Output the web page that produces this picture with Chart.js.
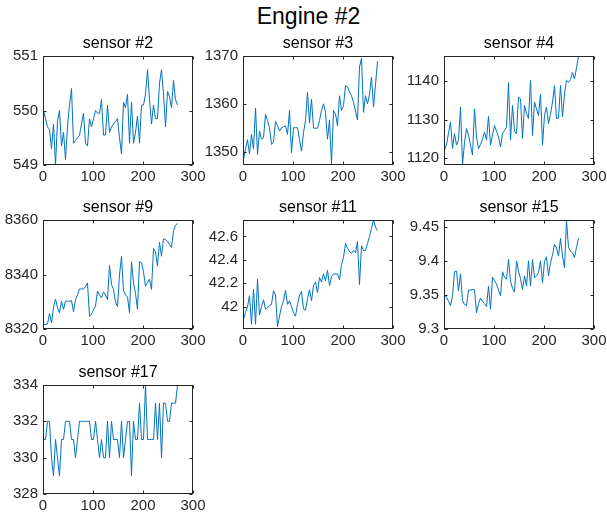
<!DOCTYPE html>
<html lang="en">
<head>
  <meta charset="UTF-8">
  <title>Engine #2</title>
  <script src="https://cdn.jsdelivr.net/npm/chart.js"></script>
  <style>
    body { margin: 0; background: #fff; }
    #page { position: relative; width: 607px; height: 517px; overflow: hidden; }
    #page canvas { position: absolute; }
    #mainTitle {
      position: absolute; left: 5px; top: 5px; width: 607px;
      text-align: center; font: 23px/23px "Liberation Sans", Arial, sans-serif; color: #000;
    }
  </style>
</head>
<body>
  <div id="page">
    <div id="mainTitle">Engine #2</div>
  </div>

  <script>
    // cycle numbers (x axis), shared by every sensor
    const CYCLES = [
      1, 5, 9, 13, 17, 21, 25, 29, 33, 37,
      41, 45, 49, 53, 57, 61, 65, 69, 73, 77,
      81, 85, 89, 93, 97, 101, 105, 109, 113, 117,
      121, 125, 129, 133, 137, 141, 145, 149, 153, 157,
      161, 165, 169, 173, 177, 181, 185, 189, 193, 197,
      201, 205, 209, 213, 217, 221, 225, 229, 233, 237,
      241, 245, 249, 253, 257, 261, 265, 269
    ];

    // sensor readings
    const SENSOR_2 = [
      550.0, 549.85, 549.7, 549.65, 549.3, 549.75, 549.0, 549.8, 550.0, 549.35,
      549.6, 549.1, 549.7, 550.1, 550.4, 549.4, 549.45, 549.5, 549.55, 549.75,
      549.95, 549.4, 549.35, 549.85, 549.7, 549.85, 550.0, 549.95, 549.95, 550.2,
      549.55, 549.55, 550.1, 549.6, 549.7, 549.75, 549.8, 549.85, 549.5, 549.2,
      550.15, 550.05, 550.3, 549.4, 550.15, 549.4, 549.6, 549.9, 549.4, 550.1,
      550.1, 550.3, 550.75, 550.2, 549.75, 550.1, 549.85, 549.85, 550.5, 550.75,
      550.3, 549.7, 550.35, 550.25, 550.05, 550.55, 550.2, 550.1
    ];
    const SENSOR_3 = [
      1348.4, 1350.5, 1352.5, 1349.5, 1353.6, 1350.6, 1359.1, 1349.4, 1354.3, 1352.6,
      1352.9, 1357.8, 1356.5, 1355, 1351.5, 1352, 1356.3, 1355.5, 1354.3, 1355,
      1355.2, 1355.4, 1353.6, 1358.6, 1349.8, 1355, 1355, 1355, 1352.5, 1350.1,
      1354, 1356.5, 1362.4, 1356, 1361, 1354.9, 1354.9, 1354.9, 1356.5, 1358.6,
      1360, 1358.2, 1352.6, 1356.6, 1347.3, 1358.6, 1357.9, 1355.4, 1361.7, 1358.6,
      1359.6, 1363.8, 1363.5, 1362.5, 1361.7, 1360.3, 1358.5, 1356.6, 1367.7, 1369.5,
      1358.2, 1361.7, 1360, 1362, 1365.6, 1359.3, 1364, 1368.9
    ];
    const SENSOR_4 = [
      1122.1, 1123.5, 1126.5, 1129.4, 1122.5, 1126.4, 1123.4, 1124.8, 1133.3, 1118.2,
      1124, 1127.7, 1126, 1123.4, 1120.8, 1132.8, 1125.5, 1122.5, 1123.5, 1125,
      1126.8, 1124.7, 1130.9, 1123.4, 1126, 1128.5, 1127, 1125.5, 1122.9, 1126.4,
      1127.2, 1128, 1139.7, 1124.7, 1133.7, 1127, 1126.4, 1135.9, 1135.4, 1125.1,
      1133.7, 1131.6, 1130.3, 1140.2, 1125.9, 1134.6, 1132.8, 1131.1, 1136.7, 1123.4,
      1131.1, 1133.3, 1129, 1131.5, 1134.6, 1138.9, 1130.3, 1130.4, 1138.9, 1130.7,
      1136.7, 1140.2, 1139.8, 1140.5, 1142.3, 1140.6, 1143.5, 1146.6
    ];
    const SENSOR_9 = [
      8321.6, 8321.7, 8321.8, 8325.7, 8322.2, 8328, 8331, 8327.8, 8326, 8330.2,
      8327.2, 8330.2, 8330.2, 8330.2, 8330.4, 8326.4, 8330.8, 8332.5, 8334.7, 8334.7,
      8334.7, 8335.5, 8336.9, 8324.6, 8325.5, 8327, 8328.5, 8333.9, 8332.5, 8331.4,
      8333.6, 8332.5, 8330.8, 8343.3, 8336.3, 8334.5, 8330, 8328.2, 8339.9, 8346.7,
      8334.2, 8332.5, 8331.7, 8326, 8344.7, 8336.9, 8333, 8327.2, 8344.7, 8344.3,
      8341, 8335.7, 8337, 8338.3, 8334.5, 8349.5, 8348.3, 8343.1, 8351.9, 8346.7,
      8353.1, 8352.8, 8352.2, 8351, 8349.9, 8356.1, 8358, 8358.8
    ];
    const SENSOR_11 = [
      41.895, 41.95, 42.0, 42.094, 41.85, 42.15, 41.85, 42.236, 41.93, 42.0,
      42.06, 41.98, 41.99, 42.01, 42.02, 42.136, 42.1, 41.83, 41.92, 42.0,
      42.05, 42.14, 42.02, 42.05, 42.0, 41.95, 41.92, 42.02, 42.1, 42.13,
      41.98, 41.97, 42.07, 42.145, 42.05, 42.18, 42.21, 42.12, 42.25, 42.21,
      42.28, 42.22, 42.31, 42.18, 42.256, 42.28, 42.28, 42.28, 42.23, 42.36,
      42.42, 42.54, 42.5, 42.47, 42.455, 42.48, 42.46, 42.557, 42.19, 42.52,
      42.48, 42.48, 42.54, 42.6, 42.67, 42.74, 42.68, 42.65
    ];
    const SENSOR_15 = [
      9.351, 9.346, 9.341, 9.334, 9.349, 9.384, 9.385, 9.356, 9.381, 9.342,
      9.336, 9.334, 9.357, 9.357, 9.358, 9.358, 9.324, 9.337, 9.345, 9.341,
      9.337, 9.333, 9.363, 9.329, 9.376, 9.371, 9.366, 9.357, 9.349, 9.384,
      9.376, 9.373, 9.402, 9.37, 9.36, 9.354, 9.4, 9.385, 9.374, 9.358,
      9.378, 9.363, 9.4, 9.363, 9.402, 9.375, 9.378, 9.383, 9.4, 9.368,
      9.399, 9.406, 9.378, 9.397, 9.409, 9.424, 9.419, 9.407, 9.433, 9.407,
      9.39, 9.459, 9.42, 9.414, 9.412, 9.405, 9.42, 9.433
    ];
    const SENSOR_17 = [
      331, 331, 332, 332, 330, 329, 331, 330, 329, 331,
      331, 332, 332, 332, 331, 331, 330, 331, 332, 332,
      332, 332, 332, 332, 331, 331, 332, 331, 330, 331,
      330, 330, 332, 330, 332, 331, 331, 331, 330, 332,
      330, 331, 332, 332, 329, 332, 331, 331, 333, 331,
      331, 334, 331, 331, 331, 331, 333, 331, 333, 330,
      333, 333, 332, 332, 333, 333, 333, 334
    ];

    // tick labels and axis limits
    const X_TICKS = [0, 100, 200, 300];
    const Y_TICKS_2 = [549, 550, 551];
    const Y_TICKS_3 = [1350, 1360, 1370];
    const Y_TICKS_4 = [1120, 1130, 1140];
    const Y_TICKS_9 = [8320, 8340, 8360];
    const Y_TICKS_11 = [42, 42.2, 42.4, 42.6];
    const Y_TICKS_15 = [9.3, 9.35, 9.4, 9.45];
    const Y_TICKS_17 = [328, 330, 332, 334];
    const Y_RANGE_2 = [549, 551];
    const Y_RANGE_3 = [1347.2, 1370];
    const Y_RANGE_4 = [1118.2, 1146.6];
    const Y_RANGE_9 = [8320, 8360];
    const Y_RANGE_11 = [41.81, 42.74];
    const Y_RANGE_15 = [9.3, 9.46];
    const Y_RANGE_17 = [328, 334];

    // subplot layout (page pixels)
    const COL_LEFT = [43, 243, 444];
    const ROW_TOP = [56, 220, 385];
    const PLOT_W = 150, PLOT_H = 109;
    const LEFT_PAD = 45, RIGHT_PAD = 16, TOP_PAD = 26, BOTTOM_PAD = 24;

    const LINE_COLOR = '#0072BD';
    const AXIS_COLOR = '#262626';
    const FONT = '"Liberation Sans", Arial, sans-serif';

    const panels = [
      { title: 'sensor #2', values: SENSOR_2, ticks: Y_TICKS_2, range: Y_RANGE_2 },
      { title: 'sensor #3', values: SENSOR_3, ticks: Y_TICKS_3, range: Y_RANGE_3 },
      { title: 'sensor #4', values: SENSOR_4, ticks: Y_TICKS_4, range: Y_RANGE_4 },
      { title: 'sensor #9', values: SENSOR_9, ticks: Y_TICKS_9, range: Y_RANGE_9 },
      { title: 'sensor #11', values: SENSOR_11, ticks: Y_TICKS_11, range: Y_RANGE_11 },
      { title: 'sensor #15', values: SENSOR_15, ticks: Y_TICKS_15, range: Y_RANGE_15 },
      { title: 'sensor #17', values: SENSOR_17, ticks: Y_TICKS_17, range: Y_RANGE_17 }
    ];

    // MATLAB-like box around the axes with inward tick marks
    const boxPlugin = {
      id: 'axesBox',
      afterDraw(chart) {
        const { ctx, chartArea: a, scales } = chart;
        const l = Math.round(a.left) + 0.5, r = Math.round(a.right) - 0.5;
        const t = Math.round(a.top) + 0.5, b = Math.round(a.bottom) - 0.5;
        const len = 3;
        ctx.save();
        ctx.strokeStyle = AXIS_COLOR;
        ctx.lineWidth = 1;
        ctx.strokeRect(l, t, r - l, b - t);
        ctx.beginPath();
        scales.x.ticks.forEach(tk => {
          const x = Math.round(scales.x.getPixelForValue(tk.value)) + 0.5;
          ctx.moveTo(x, b); ctx.lineTo(x, b - len);
          ctx.moveTo(x, t); ctx.lineTo(x, t + len);
        });
        scales.y.ticks.forEach(tk => {
          const y = Math.round(scales.y.getPixelForValue(tk.value)) + 0.5;
          ctx.moveTo(l, y); ctx.lineTo(l + len, y);
          ctx.moveTo(r, y); ctx.lineTo(r - len, y);
        });
        ctx.stroke();
        ctx.restore();
      }
    };

    const fmt = v => String(Math.round(v * 1000) / 1000);

    function makePanel(p, i) {
      const col = i % 3, row = Math.floor(i / 3);
      const canvas = document.createElement('canvas');
      canvas.width = LEFT_PAD + PLOT_W + RIGHT_PAD;
      canvas.height = TOP_PAD + PLOT_H + BOTTOM_PAD;
      canvas.style.left = (COL_LEFT[col] - LEFT_PAD) + 'px';
      canvas.style.top = (ROW_TOP[row] - TOP_PAD) + 'px';
      document.getElementById('page').appendChild(canvas);

      new Chart(canvas, {
        type: 'line',
        data: {
          datasets: [{
            data: CYCLES.map((c, k) => ({ x: c, y: p.values[k] })),
            borderColor: LINE_COLOR,
            borderWidth: 1,
            pointRadius: 0,
            tension: 0,
            fill: false
          }]
        },
        options: {
          responsive: false,
          animation: false,
          devicePixelRatio: 1,
          layout: { autoPadding: false, padding: { left: 0, right: RIGHT_PAD, top: 0, bottom: 0 } },
          plugins: {
            legend: { display: false },
            tooltip: { enabled: false },
            title: {
              display: true,
              fullSize: false, // centre the title over the plot box only
              text: p.title,
              color: '#000',
              font: { family: FONT, size: 16, weight: 'normal', lineHeight: 1.2 },
              padding: { top: 4, bottom: 2.8 }
            }
          },
          scales: {
            x: {
              type: 'linear',
              min: 0,
              max: 300,
              afterBuildTicks: s => { s.ticks = X_TICKS.map(v => ({ value: v })); },
              afterFit: s => { s.height = BOTTOM_PAD; },
              grid: { display: false, drawTicks: false },
              border: { display: false },
              ticks: { padding: 3, color: AXIS_COLOR, font: { family: FONT, size: 15 }, callback: fmt, maxRotation: 0, autoSkip: false }
            },
            y: {
              min: p.range[0],
              max: p.range[1],
              afterBuildTicks: s => { s.ticks = p.ticks.map(v => ({ value: v })); },
              afterFit: s => { s.width = LEFT_PAD; },
              grid: { display: false, drawTicks: false },
              border: { display: false },
              ticks: { padding: 5, color: AXIS_COLOR, font: { family: FONT, size: 15 }, callback: fmt, autoSkip: false }
            }
          }
        },
        plugins: [boxPlugin]
      });
    }

    panels.forEach(makePanel);
  </script>
</body>
</html>
